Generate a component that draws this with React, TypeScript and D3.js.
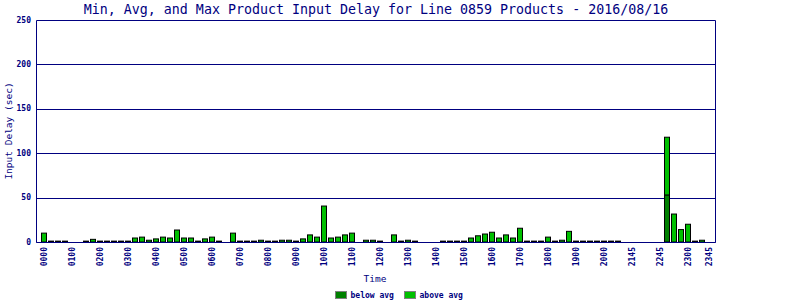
import React from "react";
import * as d3 from "d3";

// ---- data ----
const title = "Min, Avg, and Max Product Input Delay for Line 0859 Products - 2016/08/16";
const yTitle = "Input Delay (sec)";
const xTitle = "Time";
const seriesNames = ["below avg", "above avg"];
const seriesColors = ["#008000", "#00c000"];

// 96 time slots; null = no data
const maxValues: (number | null)[] = [
  10, 1, 1, 1, null, null, 1, 3, 1, 1, 1, 1, 1, 4.5, 5.5, 2,
  3.5, 5.5, 4.5, 13.5, 4.5, 4.5, 1, 3.5, 5.5, 1, null, 10, 1, 1, 1, 2,
  1, 1, 2, 2, 1, 3.5, 8, 5.5, 40.5, 4.5, 5.5, 8, 10, null, 2, 2,
  1, null, 8, 1, 2, 1, null, null, null, 1, 1, 1, 1, 4.5, 7, 9,
  11, 4.5, 8, 4.5, 15.5, 1, 1, 1, 5.5, 1, 2, 12, 1, 1, 1, 1,
  1, 1, 1, null, null, null, null, null, null, 118, 31.5, 14, 20, 1, 2, null,
];
const belowAvgValues: number[] = maxValues.map((_, i) => (i === 89 ? 53 : 0));

const tickLabels = [
  "0000", "0100", "0200", "0300", "0400", "0500", "0600", "0700", "0800", "0900",
  "1000", "1100", "1200", "1300", "1400", "1500", "1600", "1700", "1800", "1900",
  "2000", "2145", "2245", "2300", "2345",
];
const tickSlots = [
  0, 4, 8, 12, 16, 20, 24, 28, 32, 36, 40, 44, 48, 52, 56, 60, 64, 68, 72, 76,
  80, 84, 88, 92, 95,
];
const yTicks = [0, 50, 100, 150, 200, 250];

const NAVY = "#000080";
const FONT = "'DejaVu Sans Mono', monospace";

export default function App() {
  const W = 800, H = 300;
  const left = 36.5, right = 715.5, top = 20.5, bottom = 242.5;
  const slots = d3.range(maxValues.length);
  const x = d3.scaleBand<number>().domain(slots).range([40.5, 40.5 + 7 * slots.length]).padding(0);
  const y = d3.scaleLinear().domain([0, 250]).range([242, 20]);
  const crisp = (v: number) => Math.round(v) + 0.5;

  return (
    <svg width={W} height={H} style={{ position: "absolute", left: 0, top: 0, background: "#fff" }}
      fontFamily={FONT}>
      <rect x={0} y={0} width={W} height={H} fill="#fff" />
      {/* title */}
      <text x={376} y={14} textAnchor="middle" fontSize={13.3} fill={NAVY}>{title}</text>

      {/* grid lines */}
      {yTicks.map((t) => (
        <line key={t} x1={left} x2={right} y1={crisp(y(t))} y2={crisp(y(t))} stroke={NAVY} strokeWidth={1} />
      ))}
      {/* y tick labels */}
      {yTicks.map((t) => (
        <text key={"l" + t} x={31} y={y(t)} textAnchor="end" dominantBaseline="central" fontSize={8} fill={NAVY}
          fontWeight="bold">{t}</text>
      ))}

      {/* bars */}
      {slots.map((i) => {
        const v = maxValues[i];
        if (v == null) return null;
        const b = belowAvgValues[i];
        const bx = (x(i) as number) + 1;
        return (
          <g key={i}>
            {b > 0 && (
              <rect x={bx} y={y(b)} width={5} height={y(0) - y(b)} fill={seriesColors[0]} stroke="#000" strokeWidth={1} />
            )}
            <rect x={bx} y={y(v)} width={5} height={y(b) - y(v)} fill={seriesColors[1]} stroke="#000" strokeWidth={1} />
          </g>
        );
      })}

      {/* frame */}
      <line x1={left} x2={left} y1={top} y2={bottom} stroke={NAVY} />
      <line x1={right} x2={right} y1={top} y2={bottom} stroke={NAVY} />
      <line x1={left} x2={right} y1={bottom} y2={bottom} stroke={NAVY} />

      {/* x tick labels */}
      {tickSlots.map((s, k) => {
        const cx = (x(s) as number) + x.bandwidth() / 2;
        return (
          <text key={"x" + k} transform={`translate(${cx},247) rotate(-90)`} textAnchor="end"
            dominantBaseline="central" fontSize={8} fill={NAVY} fontWeight="bold">{tickLabels[k]}</text>
        );
      })}

      {/* axis titles */}
      <text transform={`translate(8,131) rotate(-90)`} textAnchor="middle" dominantBaseline="central"
        fontSize={9.5} fill={NAVY}>{yTitle}</text>
      <text x={375} y={282} textAnchor="middle" fontSize={9.5} fill={NAVY}>{xTitle}</text>

      {/* legend */}
      {seriesNames.map((n, k) => {
        const lx = 335.5 + k * 69;
        return (
          <g key={n}>
            <rect x={lx} y={291.5} width={11} height={7} fill={seriesColors[k]} stroke="#808080" />
            <text x={lx + 15} y={298} fontSize={8} fill={NAVY} fontWeight="bold">{n}</text>
          </g>
        );
      })}
    </svg>
  );
}
